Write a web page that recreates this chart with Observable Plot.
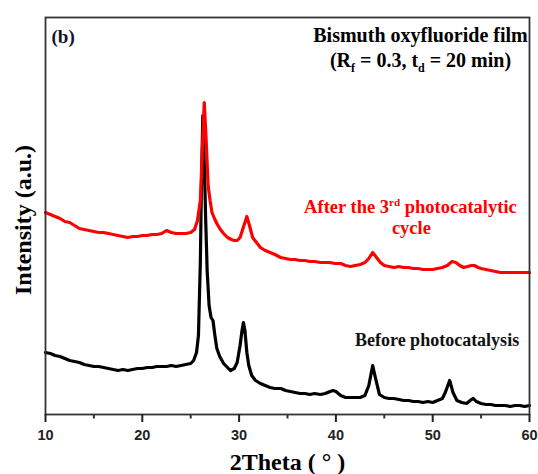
<!DOCTYPE html>
<html>
<head>
<meta charset="utf-8">
<script src="https://cdn.jsdelivr.net/npm/d3@7"></script>
<script src="https://cdn.jsdelivr.net/npm/@observablehq/plot@0.6"></script>
<style>
  html, body { margin: 0; padding: 0; background: #fff; }
  g[aria-label="x-axis tick label"] text { font-weight: bold; }
</style>
</head>
<body>
<div id="chart"></div>
<script>
// ---- data (2θ in degrees, intensity in arbitrary units) ----
const afterTheta = [10.0,10.5,11.0,11.5,12.0,12.5,13.0,13.5,14.0,14.5,15.0,15.5,16.0,16.5,17.0,17.5,18.0,18.5,19.0,19.5,20.0,20.5,21.0,21.5,22.0,22.5,23.0,23.5,24.0,24.5,25.0,25.4,25.7,26.0,26.2,26.4,26.6,26.8,27.0,27.2,27.5,27.7,28.0,28.4,28.8,29.2,29.5,29.8,30.1,30.4,30.8,31.1,31.4,31.8,32.2,32.7,33.2,33.7,34.3,34.8,35.3,35.8,36.3,36.8,37.3,37.8,38.4,38.9,39.4,39.9,40.5,41.0,41.5,42.0,42.5,43.0,43.4,43.8,44.2,44.6,45.0,45.5,46.0,46.5,47.0,47.5,48.0,48.5,49.0,49.5,50.0,50.5,51.0,51.5,52.0,52.4,52.8,53.2,53.6,54.0,54.3,54.7,55.0,55.5,56.0,56.5,57.0,57.5,58.0,58.5,59.0,59.5,60.0];
const afterIntensity = [202,200,198,196,193,192,189,186,185,184,183,182,182,181,180,179,178,177,178,178,179,179,180,180,181,184,182,181,181,181,182,185,194,214,264,312,274,229,214,202,195,191,186,181,177,175,174,174,177,186,198,188,177,172,167,164,162,160,157,156,155,155,154,154,153,153,152,152,152,151,151,149,148,149,150,152,156,162,157,152,149,148,147,148,147,147,146,146,145,145,145,146,147,149,153,152,149,147,148,149,149,147,146,145,144,143,142,142,142,142,142,142,142];

const beforeTheta = [10.0,10.5,11.0,11.5,12.0,12.5,13.0,13.5,14.0,14.5,15.0,15.5,16.0,16.5,17.0,17.5,18.0,18.5,19.0,19.5,20.0,20.5,21.0,21.5,22.0,22.5,23.0,23.5,24.0,24.5,25.0,25.3,25.6,25.8,26.0,26.1,26.25,26.4,26.55,26.7,26.9,27.1,27.3,27.5,27.7,28.0,28.4,28.8,29.1,29.5,29.8,30.1,30.3,30.45,30.6,30.8,31.0,31.3,31.7,32.2,32.7,33.2,33.7,34.3,34.8,35.3,35.8,36.3,36.8,37.3,37.8,38.4,38.9,39.4,39.7,40.0,40.5,41.0,41.5,42.0,42.5,43.0,43.4,43.8,44.1,44.5,45.0,45.5,46.0,46.5,47.0,47.5,48.0,48.5,49.0,49.5,50.0,50.5,51.0,51.3,51.75,52.1,52.5,53.0,53.5,54.0,54.2,54.5,55.0,55.5,56.0,56.5,57.0,57.5,58.0,58.5,59.0,59.5,60.0];
const beforeIntensity = [62,61,59,58,56,54,53,52,50,49,48,48,47,46,45,44,45,44,45,46,46,47,47,48,48,48,49,48,49,50,51,54,62,79,154,224,299,254,194,144,109,97,94,79,66,58,51,47,44,46,52,69,84,92,84,62,49,39,34,31,29,27,26,26,24,23,22,21,21,20,21,20,21,23,24,23,19,17,17,17,17,19,29,49,36,20,17,16,16,15,14,14,13,13,12,13,12,14,16,22,34,22,14,12,11,15,16,13,11,10,10,9,9,9,8,9,9,8,9];

const majorTicks = [10, 20, 30, 40, 50, 60];
const minorTicks = [15, 25, 35, 45, 55];
const xDomain = [10, 60];
const yDomain = [0, 397];

const titleLine1 = "Bismuth oxyfluoride film";
const titleLine2 = "(Rf = 0.3, td = 20 min)";
const panelTag = "(b)";
const afterLabel1 = "After the 3rd photocatalytic";
const afterLabel2 = "cycle";
const beforeLabel = "Before photocatalysis";
const xLabel = "2Theta ( \u00B0 )";
const yLabel = "Intensity (a.u.)";

// ---- tables ----
const afterData = afterTheta.map((t, i) => ({theta: t, intensity: afterIntensity[i]}));
const beforeData = beforeTheta.map((t, i) => ({theta: t, intensity: beforeIntensity[i]}));

const serif = "'Liberation Serif', 'Times New Roman', Times, serif";
const sans = "'Liberation Sans', Arial, Helvetica, sans-serif";

const annotations = [
  {theta: 48.74, intensity: 373, text: titleLine1, size: 20, color: "#000", anchor: "middle"},
  {theta: 48.74, intensity: 348, text: titleLine2, size: 20, color: "#000", anchor: "middle"},
  {theta: 10.62, intensity: 372, text: panelTag, size: 19, color: "#14142e", anchor: "start"},
  {theta: 47.7, intensity: 202, text: afterLabel1, size: 18.5, color: "#ff0000", anchor: "middle"},
  {theta: 47.8, intensity: 181, text: afterLabel2, size: 18.5, color: "#ff0000", anchor: "middle"},
  {theta: 50.45, intensity: 69, text: beforeLabel, size: 18, color: "#111", anchor: "middle"}
];

const annotationMarks = annotations.map(a => Plot.text([a], {
  x: "theta", y: "intensity", text: "text",
  fontFamily: serif, fontWeight: "bold", fontSize: a.size,
  fill: a.color, textAnchor: a.anchor, lineAnchor: "bottom"
}));

const chart = Plot.plot({
  width: 538,
  height: 474,
  marginLeft: 45,
  marginRight: 9,
  marginTop: 17,
  marginBottom: 60,
  x: {domain: xDomain},
  y: {domain: yDomain, axis: null},
  marks: [
    Plot.line(beforeData, {x: "theta", y: "intensity", stroke: "#000", strokeWidth: 3.2, strokeLinejoin: "round"}),
    Plot.line(afterData, {x: "theta", y: "intensity", stroke: "#ff0000", strokeWidth: 3.2, strokeLinejoin: "round"}),
    Plot.frame({stroke: "#333", strokeWidth: 1.8}),
    Plot.axisX(minorTicks, {tickSize: 4.5, strokeWidth: 2, color: "#333", tickFormat: () => "", label: null}),
    Plot.axisX(majorTicks, {tickSize: 8, tickPadding: 7, strokeWidth: 2, color: "#222",
      fontSize: 14.5, fontWeight: "bold", fontFamily: sans, label: null, tickFormat: d => String(d)}),
    Plot.text([xLabel], {frameAnchor: "bottom", dy: 55, text: d => d, lineAnchor: "bottom",
      fontFamily: serif, fontWeight: "bold", fontSize: 24, fill: "#000"}),
    Plot.text([yLabel], {frameAnchor: "left", dx: -22, dy: 4, text: d => d, rotate: -90,
      textAnchor: "middle", lineAnchor: "middle",
      fontFamily: serif, fontWeight: "bold", fontSize: 24, fill: "#000"}),
    ...annotationMarks
  ]
});

document.getElementById("chart").appendChild(chart);

// ---- rich text: subscripts / superscripts as real tspans ----
function richText(svg, match, parts) {
  d3.select(svg).selectAll("text")
    .filter(function () { return this.textContent === match; })
    .each(function () {
      const el = d3.select(this);
      el.text("");
      let shift = 0;
      for (const p of parts) {
        const ts = el.append("tspan").text(p.t);
        const target = p.sub ? 5 : p.sup ? -7 : 0;
        if (target !== shift) { ts.attr("dy", target - shift); shift = target; }
        if (p.sub || p.sup) ts.attr("font-size", "60%");
      }
    });
}
richText(chart, titleLine2, [
  {t: "(R"}, {t: "f", sub: true}, {t: " = 0.3, t"}, {t: "d", sub: true}, {t: " = 20 min)"}
]);
richText(chart, afterLabel1, [
  {t: "After the 3"}, {t: "rd", sup: true}, {t: " photocatalytic"}
]);
d3.select(chart).selectAll('g[aria-label="x-axis tick label"] text')
  .attr("font-weight", "bold").attr("font-family", sans);
</script>
</body>
</html>
